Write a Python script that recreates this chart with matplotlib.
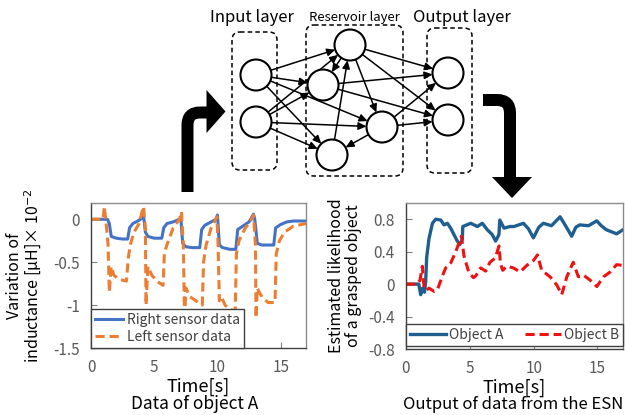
import numpy as np
import matplotlib
matplotlib.use("Agg")
import matplotlib.pyplot as plt
from matplotlib.patches import Circle, FancyBboxPatch, FancyArrowPatch, Polygon, PathPatch
from matplotlib.path import Path

plt.rcParams['font.family'] = ['Noto Sans CJK JP', 'DejaVu Sans']

# ---------------- data: left chart (object A sensor data) ----------------
right_t = [0, 1.3, 1.45, 1.6, 2.0, 2.5, 2.9, 3.05, 3.3, 3.7, 4.0, 4.15, 4.3, 4.5, 5.0, 5.6,
           5.75, 6.0, 6.5, 7.0, 7.1, 7.25, 7.5, 8.0, 8.6, 8.75, 9.0, 9.5, 9.9, 10.0, 10.15,
           10.4, 11.0, 11.45, 11.6, 12.0, 12.5, 12.85, 12.95, 13.15, 13.5, 14.0, 14.45, 14.6,
           15.0, 15.5, 16.0, 17.0]
right_v = [0, 0, -0.05, -0.2, -0.22, -0.23, -0.23, -0.1, -0.05, -0.02, 0.01, 0.05, -0.15,
           -0.2, -0.22, -0.22, -0.1, -0.05, -0.03, 0.0, 0.02, -0.28, -0.32, -0.33, -0.33,
           -0.12, -0.07, -0.03, 0.0, 0.05, -0.3, -0.33, -0.35, -0.35, -0.12, -0.08, -0.03,
           0.06, 0.0, -0.28, -0.3, -0.3, -0.3, -0.1, -0.06, -0.03, -0.02, -0.02]

left_t = [0, 0.95, 1.05, 1.2, 1.35, 1.45, 1.6, 1.8, 2.2, 2.8, 2.95, 3.1, 3.4, 3.8, 4.15, 4.3,
          4.35, 4.5, 4.8, 5.2, 5.7, 5.8, 6.0, 6.5, 7.0, 7.15, 7.3, 7.4, 7.5, 7.8, 8.3, 8.8,
          8.9, 9.1, 9.5, 9.8, 9.95, 10.05, 10.15, 10.3, 10.6, 11.0, 11.4, 11.5, 11.7, 12.2,
          12.6, 12.85, 13.0, 13.05, 13.15, 13.3, 13.6, 14.0, 14.55, 14.65, 14.9, 15.3, 16.0, 17.0]
left_v = [0, 0, 0.15, -0.05, -0.3, -0.85, -0.55, -0.65, -0.7, -0.72, -0.45, -0.3, -0.15,
          -0.05, 0.15, -0.1, -1.0, -0.55, -0.65, -0.72, -0.77, -0.4, -0.3, -0.1, 0.0, 0.09,
          -0.3, -1.2, -0.8, -0.9, -0.95, -1.0, -0.5, -0.3, -0.1, -0.02, 0.03, -0.3, -0.95,
          -0.9, -1.0, -1.05, -1.07, -0.4, -0.25, -0.1, -0.03, 0.05, -0.3, -1.15, -0.8, -0.85,
          -0.92, -0.97, -0.97, -0.4, -0.25, -0.15, -0.08, -0.05]

# ---------------- data: right chart (ESN output) ----------------
objA_t = [0, 1.0, 1.15, 1.3, 1.45, 1.54, 1.62, 1.8, 2.07, 2.33, 2.72, 2.98, 3.24, 3.5, 3.76,
          4.02, 4.23, 4.41, 4.45, 5.07, 5.59, 5.98, 6.37, 6.76, 7.02, 7.28, 7.35, 7.68, 8.15,
          8.46, 9.2, 9.6, 9.98, 10.4, 10.76, 11.4, 12.07, 12.5, 12.98, 13.3, 13.6, 14.3,
          14.94, 15.3, 15.7, 16.5, 17.0]
objA_v = [0, 0, -0.13, -0.05, -0.1, 0.03, 0.33, 0.56, 0.75, 0.8, 0.79, 0.73, 0.75, 0.69,
          0.61, 0.53, 0.49, 0.55, 0.71, 0.75, 0.71, 0.75, 0.67, 0.61, 0.53, 0.61, 0.79, 0.69,
          0.71, 0.71, 0.75, 0.68, 0.57, 0.7, 0.75, 0.72, 0.83, 0.72, 0.59, 0.7, 0.73, 0.72,
          0.78, 0.72, 0.67, 0.62, 0.67]

objB_t = [0, 0.89, 1.1, 1.28, 1.41, 1.55, 1.8, 2.2, 2.46, 2.85, 3.11, 3.5, 3.9, 4.34, 4.54,
          4.93, 5.28, 5.46, 5.85, 6.24, 6.58, 6.98, 7.29, 7.4, 7.58, 7.89, 8.41, 8.94, 9.46,
          9.98, 10.3, 10.63, 11.29, 11.81, 12.2, 12.6, 13.1, 13.5, 13.9, 14.42, 14.95,
          15.47, 16.0, 16.5, 17.0]
objB_v = [0, 0, 0.05, 0.22, -0.03, -0.08, -0.05, -0.09, -0.07, 0.1, 0.2, 0.26, 0.4, 0.59,
          0.35, 0.14, 0.08, 0.1, 0.2, 0.16, 0.27, 0.32, 0.47, 0.25, 0.17, 0.22, 0.2, 0.15,
          0.23, 0.29, 0.36, 0.17, 0.09, -0.01, -0.13, 0.09, 0.27, 0.09, 0.11, 0.05, -0.03,
          0.09, 0.15, 0.24, 0.23]

left_yticks = [0, -0.5, -1, -1.5]
left_yticklabels = ['0', '-0.5', '-1', '-1.5']
right_yticks = [0.8, 0.4, 0, -0.4, -0.8]
right_yticklabels = ['0.8', '0.4', '0', '-0.4', '-0.8']
xticks = [0, 5, 10, 15]

W, H = 625, 415
fig = plt.figure(figsize=(W / 100, H / 100), dpi=100)

def px_axes(l, t, r, b):
    return fig.add_axes([l / W, 1 - b / H, (r - l) / W, (b - t) / H])

tick_color = '#595959'

def style(ax):
    for s in ['left', 'bottom']:
        ax.spines[s].set_color('#404040')
    for s in ['top', 'right']:
        ax.spines[s].set_color('#8c8c8c')
    for s in ax.spines.values():
        s.set_linewidth(1.0)
    ax.tick_params(direction='in', length=4, colors='#808080', labelcolor=tick_color,
                   labelsize=11, pad=8)

# ---- left chart ----
ax1 = px_axes(91, 203, 306, 348)
ax1.plot(right_t, right_v, color='#4472C4', lw=2.2, label='Right sensor data')
ax1.plot(left_t, left_v, color='#ED7D31', lw=2.2, ls=(0, (3, 1.6)), label='Left sensor data')
ax1.set_xlim(0, 17)
ax1.set_ylim(-1.5, 0.19)
ax1.set_yticks(left_yticks)
ax1.set_yticklabels(left_yticklabels)
ax1.set_xticks(xticks)
style(ax1)
ax1.set_ylabel('Variation of\ninductance [μH]× 10$^{-2}$', fontsize=11.5, linespacing=1.0)
ax1.yaxis.set_label_coords(-0.22, 0.5)
ax1.set_xlabel('Time[s]', fontsize=13, labelpad=1)
leg1 = ax1.legend(loc='lower left', fontsize=10, handlelength=2.0, handletextpad=0.3,
                  borderaxespad=0, fancybox=False, edgecolor='#404040', labelcolor='#404040',
                  borderpad=0.3, labelspacing=0.2, framealpha=1)
leg1.get_frame().set_linewidth(1.0)
fig.text(195 / W, 1 - 404 / H, 'Data of object A', ha='center', va='center', fontsize=12.5)

# ---- right chart ----
ax2 = px_axes(406, 203, 623, 349)
ax2.plot(objA_t, objA_v, color='#1F5F8F', lw=2.4, label='Object A')
ax2.plot(objB_t, objB_v, color='#F01010', lw=2.2, ls=(0, (3, 1.6)), label='Object B')
ax2.set_xlim(0, 17)
ax2.set_ylim(-0.8, 1.0)
ax2.set_yticks(right_yticks)
ax2.set_yticklabels(right_yticklabels)
ax2.set_xticks(xticks)
style(ax2)
ax2.set_ylabel('Estimated likelihood\nof a grasped object', fontsize=11.5, linespacing=1.0)
ax2.yaxis.set_label_coords(-0.205, 0.5)
ax2.set_xlabel('Time[s]', fontsize=13, labelpad=1)
leg2 = ax2.legend(loc='lower center', ncol=2, fontsize=10, handlelength=2.6, handletextpad=0.2,
                  columnspacing=1.6, bbox_to_anchor=(0.5, 0.02), borderaxespad=0,
                  fancybox=False, edgecolor='#404040', labelcolor='#404040', borderpad=0.3,
                  framealpha=1)
leg2.get_frame().set_linewidth(1.0)
fig.text(513 / W, 1 - 404 / H, 'Output of data from the ESN', ha='center', va='center',
         fontsize=12)

# ---- network diagram (overlay in pixel coordinates) ----
ov = fig.add_axes([0, 0, 1, 1], zorder=-1)
ov.set_xlim(0, W)
ov.set_ylim(H, 0)
ov.axis('off')

nodes = {
    'I1': (256, 75), 'I2': (256, 122),
    'R1': (350, 45), 'R2': (323, 85), 'R3': (382, 127), 'R4': (332, 155),
    'O1': (448, 73), 'O2': (448, 120),
}
r = 15.5
boxes = [(232, 32, 277, 170), (306, 25, 403, 176), (427, 28, 472, 173)]
for (l, t, rr, b) in boxes:
    ov.add_patch(FancyBboxPatch((l + 8, t + 8), rr - l - 16, b - t - 16,
                                boxstyle='round,pad=8', fill=False, ec='black', lw=1.1,
                                ls=(0, (3, 2))))

edges = [('I1', 'R1'), ('I1', 'R2'), ('I1', 'R3'), ('I1', 'R4'),
         ('I2', 'R1'), ('I2', 'R2'), ('I2', 'R3'), ('I2', 'R4'),
         ('R1', 'R2'), ('R4', 'R1'), ('R1', 'R3'), ('R3', 'R4'),
         ('R1', 'O1'), ('R1', 'O2'), ('R2', 'O1'), ('R2', 'O2'), ('R3', 'O1'), ('R3', 'O2')]
for a, b in edges:
    (x0, y0), (x1, y1) = nodes[a], nodes[b]
    d = np.hypot(x1 - x0, y1 - y0)
    ux, uy = (x1 - x0) / d, (y1 - y0) / d
    ov.add_patch(FancyArrowPatch((x0 + ux * r, y0 + uy * r), (x1 - ux * r, y1 - uy * r),
                                 arrowstyle='-|>,head_length=3,head_width=1.4', lw=1.1,
                                 color='black', shrinkA=0, shrinkB=0, mutation_scale=1.6))
for name, (x, y) in nodes.items():
    ov.add_patch(Circle((x, y), r, fill=True, fc='white', ec='black', lw=1.5, zorder=3))

ov.text(252, 17, 'Input layer', ha='center', va='center', fontsize=12)
ov.text(354, 17, 'Reservoir layer', ha='center', va='center', fontsize=9.5)
ov.text(462, 17, 'Output layer', ha='center', va='center', fontsize=12)

# big black bent arrows
lw_pt = 12 * 72 / 100
p1 = Path([(187.5, 192), (187.5, 125), (187.5, 112.5), (200, 112.5), (208, 112.5)],
          [Path.MOVETO, Path.LINETO, Path.CURVE3, Path.CURVE3, Path.LINETO])
ov.add_patch(PathPatch(p1, fill=False, ec='black', lw=lw_pt, capstyle='butt', joinstyle='miter'))
ov.add_patch(Polygon([(206.5, 90), (225.5, 111.5), (206.5, 133)], closed=True, fc='black', ec='none'))
p2 = Path([(483, 100), (497, 100), (510, 100), (510, 113), (510, 178)],
          [Path.MOVETO, Path.LINETO, Path.CURVE3, Path.CURVE3, Path.LINETO])
ov.add_patch(PathPatch(p2, fill=False, ec='black', lw=lw_pt, capstyle='butt', joinstyle='miter'))
ov.add_patch(Polygon([(492, 177), (532, 177), (512, 198)], closed=True, fc='black', ec='none'))

fig.savefig('out.png', dpi=100)
